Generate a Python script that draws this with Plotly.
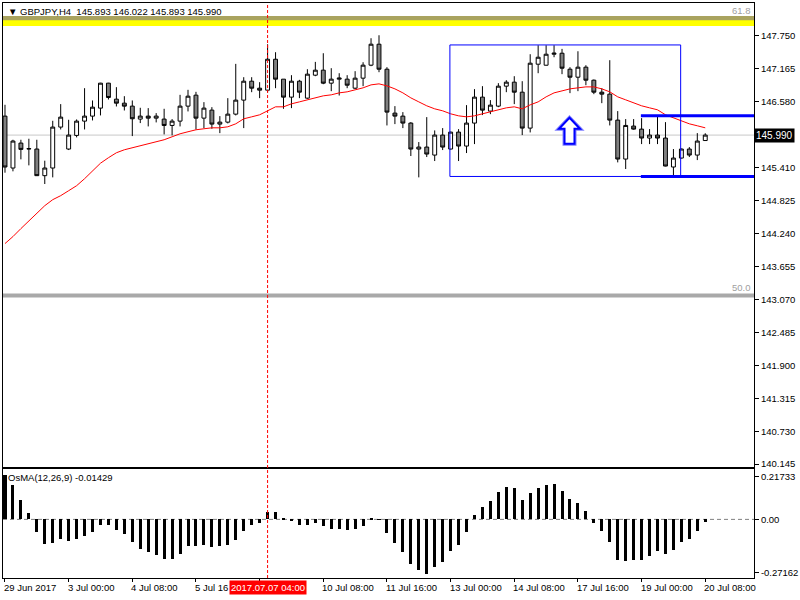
import plotly.graph_objects as go

# ---------------- data ----------------
opens = [146.327, 145.405, 145.848, 145.750, 145.742, 145.269, 145.405, 146.132, 145.742, 145.984,
         146.238, 146.327, 146.469, 146.912, 146.628, 146.557, 146.504, 146.274, 146.327, 146.291,
         146.274, 146.161, 146.238, 146.504, 146.699, 146.291, 146.433, 146.185, 146.220, 146.362,
         146.611, 146.947, 146.823, 146.788, 147.337, 146.983, 146.664, 146.947, 146.646, 147.054,
         147.143, 146.912, 146.983, 146.983, 146.823, 147.001, 147.232, 147.604, 147.160, 146.380,
         146.327, 146.203, 145.742, 145.777, 145.635, 145.990, 145.742, 146.043, 145.795, 146.203,
         146.664, 146.416, 146.504, 146.859, 146.930, 146.752, 146.114, 147.249, 147.231, 147.426,
         147.444, 147.160, 147.018, 147.196, 146.965, 146.752, 146.717, 146.256, 145.564, 146.150,
         146.096, 145.937, 145.990, 145.937, 145.423, 145.582, 145.742, 145.635, 145.893]
highs = [146.528, 145.907, 145.907, 145.925, 145.907, 145.535, 146.244, 146.540, 146.262, 146.268,
         146.823, 146.605, 146.918, 146.918, 146.841, 146.681, 146.605, 146.475, 146.469, 146.380,
         146.457, 146.274, 146.705, 146.794, 146.758, 146.575, 146.486, 146.327, 146.646, 147.255,
         147.018, 147.018, 146.930, 147.603, 147.462, 146.983, 147.054, 146.971, 147.160, 147.290,
         147.444, 147.178, 147.089, 147.054, 147.125, 147.284, 147.710, 147.763, 147.196, 146.504,
         146.398, 146.220, 145.866, 146.309, 146.073, 146.114, 146.050, 146.096, 146.522, 146.806,
         146.859, 146.611, 146.912, 146.965, 147.036, 146.947, 147.426, 147.586, 147.586, 147.586,
         147.521, 147.196, 147.479, 147.231, 146.977, 146.823, 147.320, 146.416, 146.274, 146.274,
         146.291, 146.096, 146.327, 146.220, 145.742, 145.750, 145.777, 146.025, 146.022]
lows = [145.322, 145.346, 145.559, 145.452, 145.263, 145.121, 145.239, 146.090, 145.724, 145.949,
        146.090, 146.250, 146.339, 146.622, 146.498, 146.427, 145.972, 146.203, 146.144, 146.215,
        146.002, 145.984, 146.144, 146.410, 146.090, 146.114, 146.102, 146.025, 146.197, 146.339,
        146.114, 146.752, 146.646, 146.752, 146.823, 146.457, 146.469, 146.646, 146.634, 147.036,
        146.894, 146.770, 146.693, 146.823, 146.806, 146.859, 147.214, 147.107, 146.161, 146.185,
        146.114, 145.618, 145.239, 145.600, 145.529, 145.724, 145.735, 145.529, 145.671, 145.830,
        146.345, 146.362, 146.486, 146.752, 146.540, 145.990, 146.037, 147.089, 147.225, 147.373,
        147.072, 146.735, 146.770, 146.876, 146.717, 146.557, 146.161, 145.505, 145.387, 146.085,
        145.830, 145.830, 145.830, 145.434, 145.275, 145.575, 145.600, 145.546, 145.893]
closes = [145.423, 145.884, 145.736, 145.745, 145.269, 145.405, 146.132, 146.309, 145.990, 146.238,
          146.327, 146.486, 146.912, 146.658, 146.557, 146.504, 146.280, 146.327, 146.291, 146.327,
          146.161, 146.238, 146.504, 146.681, 146.291, 146.469, 146.185, 146.220, 146.362, 146.611,
          146.947, 146.823, 146.788, 147.337, 146.983, 146.664, 146.947, 146.752, 147.072, 147.143,
          146.912, 146.983, 147.001, 146.876, 147.001, 147.232, 147.604, 147.160, 146.398, 146.327,
          146.203, 145.742, 145.777, 145.653, 145.990, 145.777, 146.043, 145.795, 146.203, 146.664,
          146.433, 146.522, 146.859, 146.930, 146.752, 146.114, 147.267, 147.373, 147.426, 147.444,
          147.178, 147.018, 147.196, 146.965, 146.752, 146.717, 146.256, 145.564, 146.161, 146.096,
          145.937, 145.990, 145.937, 145.440, 145.582, 145.742, 145.635, 145.884, 145.990]
ma = [144.063, 144.187, 144.329, 144.470, 144.612, 144.736, 144.843, 144.914, 145.002, 145.091,
      145.215, 145.357, 145.490, 145.588, 145.676, 145.729, 145.765, 145.800, 145.836, 145.871,
      145.907, 145.960, 146.013, 146.049, 146.084, 146.102, 146.119, 146.119, 146.137, 146.190,
      146.279, 146.314, 146.350, 146.421, 146.492, 146.492, 146.545, 146.580, 146.616, 146.651,
      146.687, 146.705, 146.740, 146.758, 146.793, 146.829, 146.882, 146.900, 146.864, 146.811,
      146.740, 146.651, 146.580, 146.510, 146.456, 146.421, 146.368, 146.332, 146.314, 146.332,
      146.368, 146.403, 146.439, 146.474, 146.492, 146.456, 146.527, 146.580, 146.669, 146.740,
      146.775, 146.811, 146.829, 146.846, 146.846, 146.811, 146.758, 146.669, 146.616, 146.563,
      146.510, 146.474, 146.439, 146.350, 146.297, 146.244, 146.190, 146.155, 146.119]
osma = [0.226, 0.175, 0.099, 0.034, -0.068, -0.128, -0.124, -0.100, -0.109, -0.100,
        -0.085, -0.068, -0.029, -0.032, -0.054, -0.078, -0.119, -0.151, -0.170, -0.185,
        -0.206, -0.206, -0.180, -0.139, -0.139, -0.134, -0.141, -0.139, -0.134, -0.104,
        -0.058, -0.031, -0.017, 0.037, 0.037, 0.005, -0.007, -0.032, -0.031, -0.022,
        -0.037, -0.048, -0.048, -0.053, -0.051, -0.034, 0.003, -0.001, -0.073, -0.122,
        -0.170, -0.231, -0.262, -0.282, -0.247, -0.221, -0.165, -0.134, -0.068, 0.022,
        0.063, 0.094, 0.139, 0.165, 0.160, 0.099, 0.134, 0.160, 0.175, 0.180,
        0.146, 0.104, 0.083, 0.043, -0.017, -0.060, -0.119, -0.211, -0.216, -0.211,
        -0.207, -0.187, -0.165, -0.177, -0.156, -0.119, -0.100, -0.060, -0.014]

x_tick_bars = [0, 8, 16, 24, 40, 48, 56, 64, 72, 80, 88]
x_tick_labels = ["29 Jun 2017", "3 Jul 00:00", "4 Jul 08:00", "5 Jul 16", "10 Jul 08:00",
                 "11 Jul 16:00", "13 Jul 00:00", "14 Jul 08:00", "17 Jul 16:00", "19 Jul 00:00",
                 "20 Jul 08:00"]
hidden_tick_bars = [32]
cursor_bar = 33
cursor_label = "2017.07.07 04:00"

price_ticks = [147.750, 147.165, 146.580, 145.995, 145.410, 144.825, 144.240, 143.655,
               143.070, 142.485, 141.900, 141.315, 140.730, 140.145]
covered_tick = 145.995
osma_ticks = [0.21733, 0.0, -0.27162]
osma_tick_labels = ["0.21733", "0.00", "-0.27162"]

header_text = "GBPJPY,H4  145.893 146.022 145.893 145.990"
osma_text = "OsMA(12,26,9) -0.01429"
last_price = 145.990
fib_618_band = (147.928, 148.105)
fib_618_line = (148.029, 148.105)
fib_50 = 143.141
rect_bars = (55.91, 84.91)
rect_prices = (145.255, 147.591)
level_start_bar = 79.91
level_prices = [146.332, 145.255]
arrow_bar = 70.94
arrow_tip_price = 146.297

# ---------------- layout constants ----------------
X_RANGE = [-0.25, 94.125]
Y_RANGE = [140.091, 148.336]
Y2_RANGE = [-0.2997, 0.2566]
FONT = "Liberation Sans, Arial, sans-serif"
FS = 9.5

idx = list(range(len(opens)))

fig = go.Figure()

fig.add_trace(go.Candlestick(
    x=idx, open=opens, high=highs, low=lows, close=closes,
    increasing=dict(line=dict(color="black", width=1), fillcolor="white"),
    decreasing=dict(line=dict(color="black", width=1), fillcolor="#808080"),
    whiskerwidth=0, hoverinfo="skip", showlegend=False, xaxis="x", yaxis="y"))

fig.add_trace(go.Scatter(x=idx, y=ma, mode="lines", line=dict(color="#ff0000", width=1),
                         hoverinfo="skip", showlegend=False, xaxis="x", yaxis="y"))

fig.add_trace(go.Bar(x=idx, y=osma, width=0.38, marker=dict(color="black", line=dict(width=0)),
                     hoverinfo="skip", showlegend=False, xaxis="x2", yaxis="y2"))

shapes = []
# Fibonacci levels
shapes.append(dict(type="rect", xref="x", yref="y", x0=X_RANGE[0], x1=X_RANGE[1],
                   y0=fib_618_band[0], y1=fib_618_band[1], fillcolor="#ffff00",
                   line=dict(width=0), layer="below"))
shapes.append(dict(type="rect", xref="x", yref="y", x0=X_RANGE[0], x1=X_RANGE[1],
                   y0=fib_618_line[0], y1=fib_618_line[1], fillcolor="#a9a35f",
                   line=dict(width=0), layer="below"))
shapes.append(dict(type="line", xref="x", yref="y", x0=X_RANGE[0], x1=X_RANGE[1],
                   y0=fib_50, y1=fib_50, line=dict(color="#a9a9a9", width=4), layer="below"))
# current price line
shapes.append(dict(type="line", xref="x", yref="y", x0=X_RANGE[0], x1=X_RANGE[1],
                   y0=last_price, y1=last_price, line=dict(color="#c8c8c8", width=1), layer="below"))
# blue rectangle
shapes.append(dict(type="rect", xref="x", yref="y", x0=rect_bars[0], x1=rect_bars[1],
                   y0=rect_prices[0], y1=rect_prices[1], line=dict(color="#0000ff", width=1),
                   fillcolor="rgba(0,0,0,0)"))
# thick blue levels
for lp in level_prices:
    shapes.append(dict(type="line", xref="x", yref="y", x0=level_start_bar, x1=X_RANGE[1],
                       y0=lp, y1=lp, line=dict(color="#0000ff", width=3)))
# hollow up arrow (pixel offsets converted to bar / price units)
px_to_bar = 1 / 8.0
px_to_price = 1 / 56.4
pts = [(0, 0), (10.5, 11), (5, 11), (5, 26), (-5, 26), (-5, 11), (-10.5, 11)]
path = ""
for k, (dx, dy) in enumerate(pts):
    xx = arrow_bar + dx * px_to_bar
    yy = arrow_tip_price - dy * px_to_price
    path += ("M" if k == 0 else "L") + f"{xx:.4f},{yy:.4f} "
path += "Z"
shapes.append(dict(type="path", xref="x", yref="y", path=path,
                   line=dict(color="#7f7fff", width=4), fillcolor="white"))
shapes.append(dict(type="path", xref="x", yref="y", path=path,
                   line=dict(color="#0000ff", width=2), fillcolor="white"))
# cursor vertical line
shapes.append(dict(type="line", xref="x", yref="paper", x0=cursor_bar, x1=cursor_bar,
                   y0=0, y1=1, line=dict(color="#ff0000", width=1, dash="3px,2px")))
# zero line of oscillator
shapes.append(dict(type="line", xref="x2", yref="y2", x0=X_RANGE[0], x1=X_RANGE[1],
                   y0=0, y1=0, line=dict(color="#808080", width=1, dash="4px,3px"), layer="below"))

annotations = []
annotations.append(dict(xref="paper", yref="paper", x=0, y=1, xanchor="left", yanchor="middle",
                        xshift=3, yshift=-8, showarrow=False,
                        text="▼ " + header_text, font=dict(family=FONT, size=FS, color="black")))
annotations.append(dict(xref="paper", yref="y2 domain", x=0, y=1, xanchor="left", yanchor="middle",
                        xshift=3, yshift=-8, showarrow=False, text=osma_text,
                        font=dict(family=FONT, size=FS, color="black")))
annotations.append(dict(xref="paper", yref="y", x=1, y=fib_618_band[1], xanchor="right",
                        yanchor="bottom", xshift=-1, yshift=-2, showarrow=False, text="61.8",
                        font=dict(family=FONT, size=FS, color="#a0a0a0")))
annotations.append(dict(xref="paper", yref="y", x=1, y=fib_50, xanchor="right",
                        yanchor="bottom", xshift=-1, yshift=0, showarrow=False, text="50.0",
                        font=dict(family=FONT, size=FS, color="#a0a0a0")))
annotations.append(dict(xref="paper", yref="y", x=1, y=last_price, xanchor="left",
                        yanchor="middle", xshift=0, showarrow=False, text=f"{last_price:.3f}",
                        bgcolor="black", borderpad=1,
                        font=dict(family=FONT, size=FS + 0.5, color="white")))
for b, lab in zip(x_tick_bars, x_tick_labels):
    annotations.append(dict(xref="x2", yref="paper", x=b, y=0, xanchor="left", yanchor="top",
                            xshift=-3, yshift=-2, showarrow=False, text=lab,
                            font=dict(family=FONT, size=FS, color="black")))
annotations.append(dict(xref="x2", yref="paper", x=cursor_bar, y=0, xanchor="center",
                        yanchor="top", yshift=-2, showarrow=False, text=cursor_label,
                        bgcolor="#ff0000", borderpad=1,
                        font=dict(family=FONT, size=FS, color="white")))

fig.update_layout(
    width=800, height=600,
    margin=dict(l=2, r=43, t=2, b=22),
    paper_bgcolor="white", plot_bgcolor="white",
    showlegend=False, bargap=0,
    font=dict(family=FONT, size=FS, color="black"),
    xaxis=dict(domain=[0, 1], anchor="y", range=X_RANGE, showgrid=False, zeroline=False,
               showticklabels=False, ticks="", showline=True, mirror=True, linecolor="black",
               linewidth=1, rangeslider=dict(visible=False), fixedrange=True),
    yaxis=dict(domain=[0.1927, 1], anchor="x", side="right", range=Y_RANGE, showgrid=False,
               zeroline=False, tickvals=price_ticks,
               ticktext=["" if v == covered_tick else f"{v:.3f}" for v in price_ticks],
               ticks="outside", ticklen=4, tickcolor="black", showline=True, mirror=True,
               linecolor="black", linewidth=1, tickfont=dict(family=FONT, size=FS, color="black")),
    xaxis2=dict(domain=[0, 1], anchor="y2", range=X_RANGE, matches="x", showgrid=False,
                zeroline=False, showticklabels=False,
                tickvals=x_tick_bars + hidden_tick_bars, ticks="outside", ticklen=3,
                tickcolor="black", showline=True, mirror=True, linecolor="black", linewidth=1),
    yaxis2=dict(domain=[0, 0.1892], anchor="x2", side="right", range=Y2_RANGE, showgrid=False,
                zeroline=False, tickvals=osma_ticks, ticktext=osma_tick_labels,
                ticks="outside", ticklen=4, tickcolor="black", showline=True, mirror=True,
                linecolor="black", linewidth=1, tickfont=dict(family=FONT, size=FS, color="black")),
    shapes=shapes, annotations=annotations,
)

fig.write_html("out.html")
